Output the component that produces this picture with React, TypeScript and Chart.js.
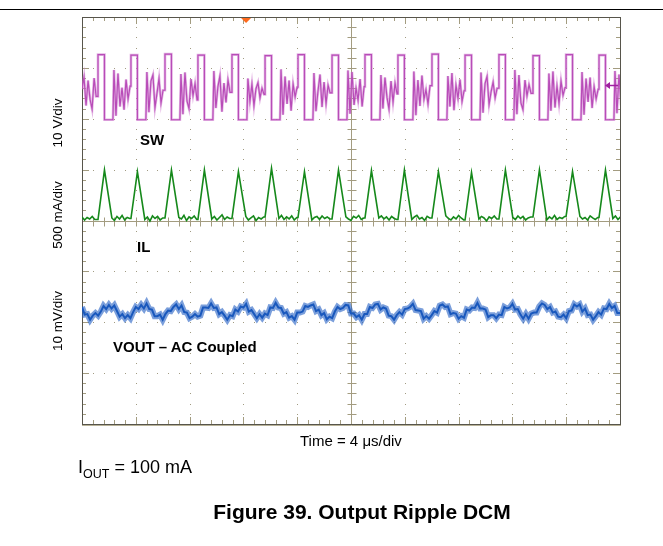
import React, { useEffect, useRef } from "react";
import { Chart, registerables } from "chart.js";

Chart.register(...registerables);

// ---------------- data (read from the scope shot) ----------------
const timeSpanUs = [0, 40]; // 10 div x 4 us/div
const timeDivUs = 4;
const swAxisV = [-60, 20]; // 10 V/div, ground 2 div above centre
const ilAxisMa = [-2000, 2000]; // 500 mA/div, ground at centre
const voutAxisMv = [-22.1, 57.9]; // 10 mV/div, AC coupled trace

const channelScaleLabels = ["10 V/div", "500 mA/div", "10 mV/div"];
const traceNames = ["SW", "IL", "VOUT \u2013 AC Coupled"];
const timeLabel = "Time = 4 \u03bcs/div";
const captionText = "Figure 39. Output Ripple DCM";

const triggerUs = 12.2;
const triggerLevelV = 6.6;

// switch node: rising-edge instants, high level, dead-time ringing
const swRiseUs = [1.19, 3.64, 6.17, 8.62, 11.15, 13.61, 16.06, 18.59, 21.04, 23.49, 26.02, 28.48, 31.0, 33.53, 35.99, 38.44];
const swHighV = [12.6, 12.5, 12.7, 12.5, 12.6, 12.4, 12.6, 12.5, 12.6, 12.5, 12.7, 12.5, 12.6, 12.4, 12.6, 12.5];
const swHighWidthUs = 0.48;
const swLowWidthUs = 0.63;
const swLowV = -0.2;
const swRingStepUs = 0.15;
const swRingV = [
  [5.8, 8.2, 2.6, 7.5, 3.8, 1.9, 8.0, 4.4],
  [9.6, 0.6, 8.9, 2.4, 6.1, 1.8, 7.7, 3.9, 6.4],
  [9.2, 1.3, 7.4, 8.6, 2.2, 5.0, 7.9, 3.1, 5.6],
  [8.8, 0.9, 9.1, 3.5, 2.0, 7.8, 4.6, 6.9, 3.7],
  [9.4, 2.1, 6.3, 8.4, 1.4, 7.0, 3.2, 7.6, 5.2],
  [7.9, 3.4, 6.8, 2.6, 5.9, 7.1, 4.1, 6.0, 4.8],
  [9.7, 0.8, 8.3, 2.9, 7.5, 1.6, 6.8, 4.3, 6.2],
  [9.0, 1.5, 5.4, 8.7, 2.3, 7.2, 3.0, 6.6, 5.1],
  [9.5, 1.0, 9.2, 2.7, 6.0, 3.6, 7.8, 2.4, 6.3],
  [8.6, 2.0, 8.1, 4.2, 1.9, 7.4, 3.3, 7.0, 4.9],
  [9.3, 0.7, 7.6, 2.5, 8.5, 3.8, 5.7, 2.9, 6.5],
  [8.4, 2.4, 9.0, 1.7, 6.6, 4.0, 7.7, 3.4, 5.5],
  [9.1, 1.2, 6.9, 8.3, 2.8, 5.3, 7.2, 4.1, 6.0],
  [9.6, 0.9, 8.6, 3.1, 1.8, 7.6, 4.5, 6.7, 5.0],
  [8.9, 1.6, 9.3, 2.2, 6.4, 3.0, 7.4, 4.6, 6.1],
  [9.2, 0.8, 7.9, 3.3, 8.1, 2.1, 6.3, 3.9, 5.8],
  [9.4, 1.1, 8.7, 2.6, 7.3, 3.5, 6.8, 4.2, 6.0],
];

// inductor current: triangle peaks and baseline (DCM) samples
const ilPeakMa = [496, 480, 496, 496, 480, 513, 480, 496, 490, 496, 480, 472, 496, 498, 482, 496];
const ilRiseUs = 0.48;
const ilFallUs = 0.55;
const ilBaseStepUs = 0.19;
const ilBaseMa = [
  [35, 5, 30, 15, 40, 10],
  [25, 0, 40, 15, 50, 5, 30, 20],
  [10, 35, -5, 45, 20, 40, 5, 25],
  [30, 15, 50, 0, 35, 20, 45, 10],
  [15, 40, 5, 30, 55, 10, 35, 20],
  [40, 5, 25, 45, 0, 30, 15, 35],
  [20, 50, 10, 35, 15, 45, 5, 30],
  [5, 30, 40, 10, 45, 20, 35, 15],
  [35, 15, 0, 40, 25, 50, 10, 25],
  [25, 45, 15, 35, 5, 40, 20, 10],
  [10, 35, 50, 15, 30, 0, 40, 25],
  [45, 20, 5, 35, 15, 50, 25, 5],
  [15, 40, 25, -5, 35, 20, 45, 15],
  [30, 10, 45, 20, 40, 5, 25, 35],
  [5, 35, 15, 50, 10, 30, 20, 40],
  [40, 15, 30, 5, 45, 25, 10, 30],
  [20, 45, 10, 35, 25, 40, 15, 30],
];

// output ripple, one sample every 0.2 us
const voutStepUs = 0.2;
const voutMv = [
  0.9, -0.6, -0.5, -1.6, -0.8, -0.3, -0.8, 0.0, 1.1, 0.5,
  1.3, 0.6, 1.2, 0.1, -1.0, -0.5, -1.3, -0.7, -1.3, -0.1, 0.9, 0.5, 1.3,
  0.6, 1.6, 0.5, 0.4, -0.9, -0.9, -0.6, -1.6, -0.5, 0.2, 0.1, 0.9,
  1.4, 0.5, 1.2, -0.1, -0.2, -1.3, -1.0, -0.5, -1.0, -0.8, 0.8, 0.8, 0.7,
  1.6, 0.7, 0.8, -0.5, -0.1, -0.8, -1.6, -0.7, -0.9, 0.4, 0.0, 1.0,
  0.8, 1.5, 0.0, 0.3, -0.5, -1.3, -0.5, -1.2, -0.4, -0.7, 0.8, 0.7,
  1.7, 0.8, 0.7, -0.4, -0.1, -1.2, -0.9, -1.6, -0.2, -0.2, 0.0, 1.1, 0.9,
  1.2, 1.4, 0.1, 0.4, -0.7, -0.3, -1.5, -1.0, -1.3, 0.0, 0.9, 0.5,
  0.7, 1.3, 1.2, -0.4, -0.4, -1.1, -0.7, -1.6, -0.5, -0.5, 0.9, 0.7, 1.4,
  1.5, 0.4, 0.8, 0.6, -0.8, -0.9, -1.6, -0.7, -0.1, -0.6, 0.5, 0.6,
  0.9, 1.5, 0.3, 0.2, 0.1, -1.4, -0.9, -1.4, -0.7, 0.1, -0.2, 1.2,
  1.4, 0.9, 1.0, -0.5, -0.3, -0.4, -1.4, -0.9, -1.2, 0.4, 0.2, 0.8, 0.7,
  1.7, 0.6, 0.6, 0.4, -1.1, -0.7, -0.7, -1.3, -0.6, -0.7, 0.9, 0.6,
  0.8, 1.5, 0.4, 0.5, -0.6, -1.4, -0.5, -1.4, -0.4, -0.2, -0.2, 1.0, 1.6,
  1.3, 0.5, 0.9, -0.2, 0.0, -1.0, -1.1, -0.6, -1.3, 0.1, 0.2, 1.4,
  1.0, 1.4, 0.0, 0.6, -0.7, -0.6, -1.6, -0.9, -0.1, -0.6, 0.6, 0.5,
  1.5, 0.7, 1.1, -0.3, -0.3,
];

// ---------------- build point lists ----------------
type P = { x: number; y: number };

function buildSw() {
  const pts: P[] = [];
  swRingV[0].forEach((v, j) => pts.push({ x: j * swRingStepUs, y: v }));
  swRiseUs.forEach((t, k) => {
    const last = pts[pts.length - 1].y;
    pts.push({ x: t, y: last });
    pts.push({ x: t, y: swHighV[k] });
    pts.push({ x: t + swHighWidthUs, y: swHighV[k] });
    pts.push({ x: t + swHighWidthUs, y: swLowV });
    const t0 = t + swHighWidthUs + swLowWidthUs;
    pts.push({ x: t0, y: swLowV });
    swRingV[k + 1].forEach((v, j) => pts.push({ x: t0 + (j + 0.5) * swRingStepUs, y: v }));
  });
  return pts;
}

function buildIl() {
  const pts: P[] = [];
  ilBaseMa[0].forEach((v, j) => pts.push({ x: j * ilBaseStepUs, y: v }));
  swRiseUs.forEach((t, k) => {
    const prev = ilBaseMa[k];
    pts.push({ x: t, y: prev[prev.length - 1] });
    pts.push({ x: t + ilRiseUs, y: ilPeakMa[k] });
    const tEnd = t + ilRiseUs + ilFallUs;
    ilBaseMa[k + 1].forEach((v, j) => pts.push({ x: tEnd + j * ilBaseStepUs, y: v }));
  });
  return pts;
}

function buildVout() {
  return voutMv.map((v, i) => ({ x: i * voutStepUs, y: v }));
}

// ---------------- scope graticule plugin ----------------
const scopeGraticule = {
  id: "scopeGraticule",
  beforeDatasetsDraw(chart: any) {
    const { ctx, chartArea: a, scales } = chart;
    const xs = scales.x;
    const ys = scales.yIL;
    const nX = (timeSpanUs[1] - timeSpanUs[0]) / timeDivUs; // 10
    const yDiv = 500;
    const nY = (ilAxisMa[1] - ilAxisMa[0]) / yDiv; // 8
    const px = (v: number) => Math.round(xs.getPixelForValue(v)) + 0.5;
    const py = (v: number) => Math.round(ys.getPixelForValue(v)) + 0.5;
    ctx.save();

    // dotted major grid lines (dots at every minor subdivision)
    ctx.fillStyle = "#a19b82";
    for (let k = 1; k < nX; k++) {
      if (k * 2 === nX) continue;
      const x = Math.round(xs.getPixelForValue(timeSpanUs[0] + k * timeDivUs));
      for (let m = 1; m < nY * 5; m++) {
        const y = Math.round(ys.getPixelForValue(ilAxisMa[0] + (m * yDiv) / 5));
        ctx.fillRect(x, y, 1, 1);
      }
    }
    for (let j = 1; j < nY; j++) {
      if (j * 2 === nY) continue;
      const y = Math.round(ys.getPixelForValue(ilAxisMa[0] + j * yDiv));
      for (let m = 1; m < nX * 5; m++) {
        const x = Math.round(xs.getPixelForValue(timeSpanUs[0] + (m * timeDivUs) / 5));
        ctx.fillRect(x, y, 1, 1);
      }
    }

    // centre cross with ticks
    ctx.strokeStyle = "#a39c80";
    ctx.lineWidth = 1;
    const cx = px((timeSpanUs[0] + timeSpanUs[1]) / 2);
    const cy = py((ilAxisMa[0] + ilAxisMa[1]) / 2);
    ctx.beginPath();
    ctx.moveTo(cx, a.top);
    ctx.lineTo(cx, a.bottom);
    ctx.moveTo(a.left, cy);
    ctx.lineTo(a.right, cy);
    for (let m = 1; m < nY * 5; m++) {
      const y = py(ilAxisMa[0] + (m * yDiv) / 5);
      ctx.moveTo(cx - 4, y);
      ctx.lineTo(cx + 5, y);
    }
    for (let m = 1; m < nX * 5; m++) {
      const x = px(timeSpanUs[0] + (m * timeDivUs) / 5);
      ctx.moveTo(x, cy - 4);
      ctx.lineTo(x, cy + 5);
    }
    ctx.stroke();

    // frame ticks
    ctx.beginPath();
    for (let m = 1; m < nX * 5; m++) {
      const x = px(timeSpanUs[0] + (m * timeDivUs) / 5);
      const len = m % 5 === 0 ? 7 : 4;
      ctx.moveTo(x, a.top);
      ctx.lineTo(x, a.top + len);
      ctx.moveTo(x, a.bottom);
      ctx.lineTo(x, a.bottom - len);
    }
    for (let m = 1; m < nY * 5; m++) {
      const y = py(ilAxisMa[0] + (m * yDiv) / 5);
      const len = m % 5 === 0 ? 7 : 4;
      ctx.moveTo(a.left, y);
      ctx.lineTo(a.left + len, y);
      ctx.moveTo(a.right, y);
      ctx.lineTo(a.right - len, y);
    }
    ctx.stroke();

    // frame
    ctx.strokeStyle = "#57554b";
    ctx.strokeRect(Math.round(a.left) + 0.5, Math.round(a.top) + 0.5, Math.round(a.right - a.left), Math.round(a.bottom - a.top));
    ctx.strokeStyle = "#b8b298";
    ctx.beginPath();
    ctx.moveTo(a.left, Math.round(a.bottom) + 1.5);
    ctx.lineTo(a.right + 1, Math.round(a.bottom) + 1.5);
    ctx.stroke();
    ctx.restore();
  },
  afterDatasetsDraw(chart: any) {
    const { ctx, chartArea: a, scales } = chart;
    ctx.save();
    // trigger position marker
    const tx = scales.x.getPixelForValue(triggerUs);
    ctx.fillStyle = "#ff6a1c";
    ctx.beginPath();
    ctx.moveTo(tx - 5, a.top + 1);
    ctx.lineTo(tx + 5, a.top + 1);
    ctx.lineTo(tx, a.top + 6);
    ctx.closePath();
    ctx.fill();
    // trigger level marker
    const ty = Math.round(scales.ySW.getPixelForValue(triggerLevelV)) + 0.5;
    ctx.strokeStyle = "#a01fa0";
    ctx.fillStyle = "#a01fa0";
    ctx.lineWidth = 1.5;
    ctx.beginPath();
    ctx.moveTo(a.right - 13, ty);
    ctx.lineTo(a.right - 2, ty);
    ctx.stroke();
    ctx.beginPath();
    ctx.moveTo(a.right - 15, ty);
    ctx.lineTo(a.right - 10, ty - 3.5);
    ctx.lineTo(a.right - 10, ty + 3.5);
    ctx.closePath();
    ctx.fill();
    ctx.restore();
  },
};

const FONT = '"Liberation Sans", Arial, Helvetica, sans-serif';

export default function App() {
  const canvasRef = useRef<HTMLCanvasElement | null>(null);

  useEffect(() => {
    const canvas = canvasRef.current;
    if (!canvas) return;
    const sw = buildSw();
    const vout = buildVout();
    const chart = new Chart(canvas, {
      type: "line",
      data: {
        datasets: [
          {
            label: traceNames[0] + " glow",
            data: sw,
            yAxisID: "ySW",
            borderColor: "rgba(205,120,205,0.55)",
            borderWidth: 2.6,
            pointRadius: 0,
            fill: false,
            clip: 0,
          },
          {
            label: traceNames[0],
            data: sw,
            yAxisID: "ySW",
            borderColor: "#9e179e",
            borderWidth: 1.2,
            pointRadius: 0,
            fill: false,
            clip: 0,
          },
          {
            label: traceNames[1],
            data: buildIl(),
            yAxisID: "yIL",
            borderColor: "#16891b",
            borderWidth: 1.6,
            tension: 0,
            pointRadius: 0,
            fill: false,
            clip: 0,
          },
          {
            label: traceNames[2] + " band",
            data: vout,
            yAxisID: "yVOUT",
            borderColor: "rgba(35,95,195,0.6)",
            borderWidth: 6,
            tension: 0,
            pointRadius: 0,
            fill: false,
            clip: 0,
          },
          {
            label: traceNames[2],
            data: vout,
            yAxisID: "yVOUT",
            borderColor: "#0b4fb3",
            borderWidth: 2,
            tension: 0,
            pointRadius: 0,
            fill: false,
            clip: 0,
          },
        ],
      },
      options: {
        animation: false,
        responsive: false,
        maintainAspectRatio: false,
        devicePixelRatio: 1,
        events: [],
        layout: { padding: { left: 82, top: 17, right: 43, bottom: 122 } },
        plugins: { legend: { display: false }, tooltip: { enabled: false }, title: { display: false } },
        scales: {
          x: { type: "linear", min: timeSpanUs[0], max: timeSpanUs[1], display: false },
          ySW: { type: "linear", min: swAxisV[0], max: swAxisV[1], display: false },
          yIL: { type: "linear", min: ilAxisMa[0], max: ilAxisMa[1], display: false },
          yVOUT: { type: "linear", min: voutAxisMv[0], max: voutAxisMv[1], display: false },
        },
      },
      plugins: [scopeGraticule],
    } as any);
    return () => chart.destroy();
  }, []);

  const rot = (cx: number, cy: number): React.CSSProperties => ({
    position: "absolute",
    left: cx,
    top: cy,
    transform: "translate(-50%, -50%) rotate(-90deg)",
    whiteSpace: "nowrap",
    fontSize: 13.5,
    lineHeight: 1,
  });
  const bold = (left: number, top: number): React.CSSProperties => ({
    position: "absolute",
    left,
    top,
    fontSize: 15,
    fontWeight: "bold",
    lineHeight: 1,
    whiteSpace: "nowrap",
  });

  return (
    <div
      style={{
        position: "absolute",
        left: 0,
        top: 0,
        width: 663,
        height: 546,
        background: "#ffffff",
        fontFamily: FONT,
        color: "#000",
        overflow: "hidden",
      }}
    >
      <div style={{ position: "absolute", left: 0, top: 9, width: 663, height: 1, background: "#000" }} />
      <canvas ref={canvasRef} width={663} height={546} style={{ position: "absolute", left: 0, top: 0, width: 663, height: 546 }} />
      <div style={rot(58, 123)}>{channelScaleLabels[0]}</div>
      <div style={rot(58, 215)}>{channelScaleLabels[1]}</div>
      <div style={rot(58, 321)}>{channelScaleLabels[2]}</div>
      <div style={bold(140, 132)}>{traceNames[0]}</div>
      <div style={bold(137, 239)}>{traceNames[1]}</div>
      <div style={bold(113, 339)}>{traceNames[2]}</div>
      <div style={{ position: "absolute", left: 300, top: 433, fontSize: 15, lineHeight: 1, whiteSpace: "nowrap" }}>{timeLabel}</div>
      <div style={{ position: "absolute", left: 78, top: 458, fontSize: 18, lineHeight: 1, whiteSpace: "nowrap" }}>
        I<span style={{ fontSize: 12.5, position: "relative", top: 5 }}>OUT</span> = 100 mA
      </div>
      <div
        style={{
          position: "absolute",
          left: 0,
          width: 724,
          top: 501,
          textAlign: "center",
          fontSize: 21,
          fontWeight: "bold",
          lineHeight: 1,
          whiteSpace: "nowrap",
        }}
      >
        {captionText}
      </div>
    </div>
  );
}
